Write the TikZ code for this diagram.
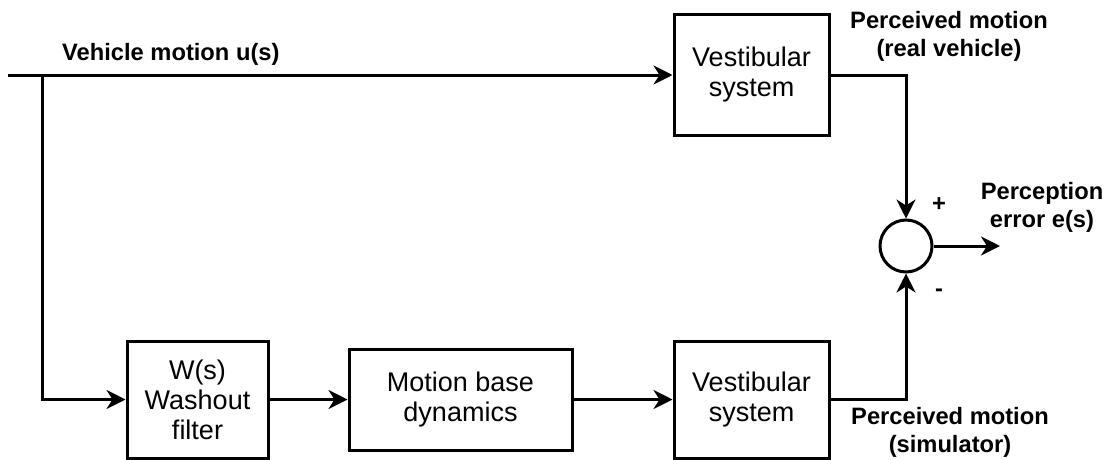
\documentclass[tikz,border=0pt]{standalone}
\usepackage{fontspec}
\setmainfont{Liberation Sans}
\usetikzlibrary{arrows.meta}

\begin{document}
\begin{tikzpicture}[x=1pt, y=-1pt,
    block/.style={draw, line width=3pt, align=center, inner sep=0pt,
        font=\fontsize{27}{30}\selectfont},
    lbl/.style={align=center, inner sep=0pt,
        font=\bfseries\fontsize{23.7}{28}\selectfont},
    wire/.style={line width=3pt},
    sig/.style={line width=3pt, -{Stealth[length=19pt, width=19pt, inset=6pt]}}]
    \useasboundingbox (0,0) rectangle (1113,460);

    % blocks
    \node[block, minimum width=155pt, minimum height=120pt] (vtop) at (751.5,75) {Vestibular\\system};
    \node[block, minimum width=141pt, minimum height=117pt] (wash) at (197.5,399.5) {W(s)\\Washout\\filter};
    \node[block, minimum width=223pt, minimum height=101pt] (base) at (460.5,399.5) {Motion base\\dynamics};
    \node[block, minimum width=155pt, minimum height=117pt] (vsim) at (751.5,399.5) {Vestibular\\system};
    \node[circle, draw, line width=3pt, minimum size=52pt, inner sep=0pt] (sum) at (906,246) {};

    % signals
    \coordinate (in) at (8,75);
    \coordinate (split) at (42,75);
    \coordinate (out) at (1000,246);
    \draw[sig] (in) -- (vtop.west);
    \draw[sig] (split) |- (wash.west);
    \draw[sig] (wash.east) -- (base.west);
    \draw[sig] (base.east) -- (vsim.west);
    \draw[sig] (vtop.east) -| (sum.north);
    \draw[sig] (vsim.east) -| (sum.south);
    \draw[sig] (sum.east) -- (out);

    % labels
    \node[lbl, anchor=base west] (uin) at (62,60) {Vehicle motion u(s)};
    \node[lbl, anchor=north] (preal) at (949,11) {Perceived motion\\(real vehicle)};
    \node[lbl, anchor=north] (perr) at (1042,182) {Perception\\error e(s)};
    \node[lbl, anchor=north] (psim) at (950,407) {Perceived motion\\(simulator)};
    \node[lbl] (plus) at (939,205) {+};
    \node[lbl] (minus) at (939,293) {-};
\end{tikzpicture}
\end{document}
